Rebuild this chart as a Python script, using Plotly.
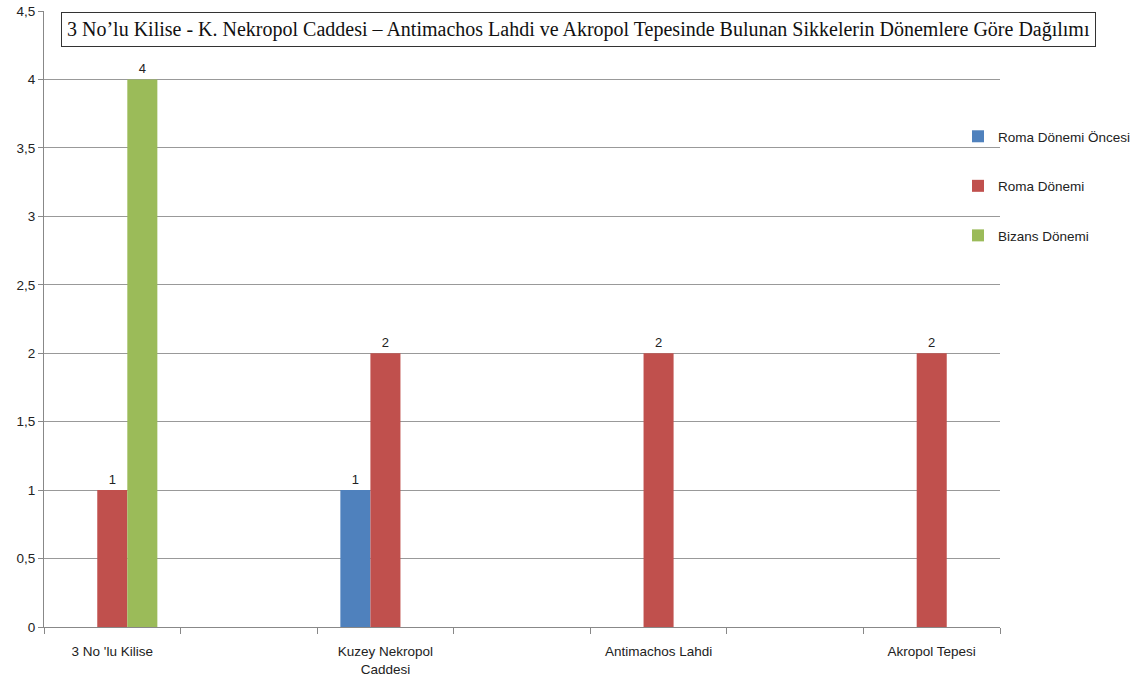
import plotly.graph_objects as go

categories = ["3 No 'lu Kilise", " ", "Kuzey Nekropol<br>Caddesi", "  ", "Antimachos Lahdi", "   ", "Akropol Tepesi"]
roma_oncesi = [None, None, 1, None, None, None, None]
roma = [1, None, 2, None, 2, None, 2]
bizans = [4, None, None, None, None, None, None]
series_names = ["Roma Dönemi Öncesi", "Roma Dönemi", "Bizans Dönemi"]
colors = ["#4F81BD", "#C0504D", "#9BBB59"]
title_text = "3 No’lu Kilise - K. Nekropol Caddesi – Antimachos Lahdi ve Akropol Tepesinde Bulunan Sikkelerin Dönemlere Göre Dağılımı"

W, H = 1142, 684

fig = go.Figure()
for i, (name, vals) in enumerate(zip(series_names, [roma_oncesi, roma, bizans])):
    fig.add_trace(go.Bar(
        x=categories, y=vals, name=name, marker_color=colors[i], marker_line_width=0,
        text=[("" if v is None else str(v)) for v in vals], textposition="outside",
        textfont=dict(size=13, color="#222"), cliponaxis=False, legendgroup=name,
    ))

fig.update_layout(
    width=W, height=H,
    margin=dict(l=44, r=142, t=11, b=57, autoexpand=False),
    paper_bgcolor="white", plot_bgcolor="white",
    barmode="group", bargap=0.34, bargroupgap=0,
    separators=", ",
    font=dict(family="Liberation Sans, Arial, sans-serif", size=13, color="#222"),
    legend=dict(xref="container", yref="container", x=958 / W, xanchor="left",
                y=1 - 121 / H, yanchor="top",
                font=dict(size=13.5, color="#222"), tracegroupgap=29, itemwidth=30,
                bgcolor="rgba(0,0,0,0)"),
    showlegend=True,
    annotations=[dict(
        text=title_text, xref="paper", yref="paper", x=0.5586, y=1.0, xanchor="center", yanchor="top",
        yshift=-1,
        showarrow=False, font=dict(family="Liberation Serif, Times New Roman, serif", size=20, color="#111"),
        bordercolor="#333", borderwidth=1, borderpad=5, bgcolor="white",
    )],
)
fig.update_xaxes(
    type="category", tickson="boundaries", ticks="outside", ticklen=6, tickcolor="#888",
    showline=True, linecolor="#888", linewidth=1, showgrid=False, automargin=False,
    tickfont=dict(size=13.5, color="#222"), range=[-0.5, 6.5], ticklabelstandoff=12,
)
fig.update_yaxes(
    range=[0, 4.5], dtick=0.5, tick0=0, ticks="outside", ticklen=5, tickcolor="#888",
    showline=True, linecolor="#888", linewidth=1, showgrid=True, gridcolor="#999", gridwidth=1,
    zeroline=False, tickfont=dict(size=13.5, color="#222"), automargin=False,
)
fig.write_html("out.html", config={"displayModeBar": False},
               post_script="document.body.style.margin='0';document.body.style.overflow='hidden';")
